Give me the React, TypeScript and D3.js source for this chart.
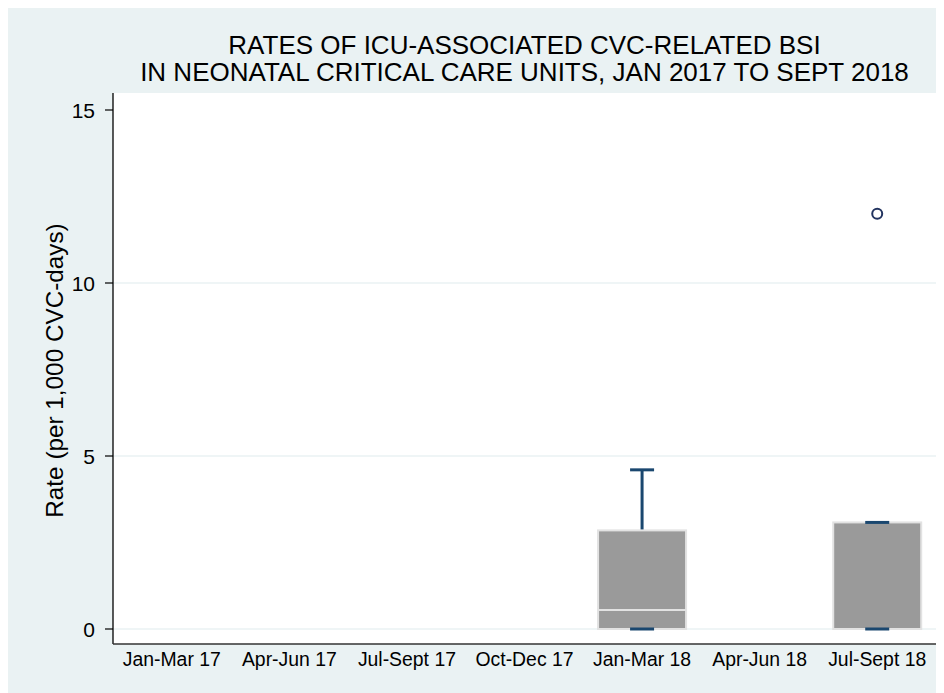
import React from "react";
import * as d3 from "d3";

const categories = ["Jan-Mar 17", "Apr-Jun 17", "Jul-Sept 17", "Oct-Dec 17", "Jan-Mar 18", "Apr-Jun 18", "Jul-Sept 18"];
// box stats per category (null = no data)
const lowerWhisker: (number | null)[] = [null, null, null, null, 0, null, 0];
const q1Values: (number | null)[] = [null, null, null, null, 0, null, 0];
const medianValues: (number | null)[] = [null, null, null, null, 0.55, null, 0];
const q3Values: (number | null)[] = [null, null, null, null, 2.85, null, 3.08];
const upperWhisker: (number | null)[] = [null, null, null, null, 4.6, null, 3.08];
const outlierValues: number[][] = [[], [], [], [], [], [], [12.0]];
const yTicks = [0, 5, 10, 15];
const titleLines = ["RATES OF ICU-ASSOCIATED CVC-RELATED BSI", "IN NEONATAL CRITICAL CARE UNITS, JAN 2017 TO SEPT 2018"];
const yTitle = "Rate (per 1,000 CVC-days)";

const W = 936;
const H = 685;
const plotL = 105;
const plotR = 928;
const plotT = 85;
const plotB = 636;
const FONT = "'Liberation Sans', Arial, Helvetica, sans-serif";
const NAVY = "#1a476f";

export default function App() {
  const x = d3.scalePoint<string>().domain(categories).range([plotL, plotR]).padding(0.5);
  const y = d3.scaleLinear().domain([0, 15]).range([621, 102]);
  const boxW = 88;
  const capW = 24;

  return (
    <svg width={W} height={H} style={{ display: "block" }} fontFamily={FONT}>
      <rect x={0} y={0} width={W} height={H} fill="#eaf2f3" />
      <rect x={plotL} y={plotT} width={plotR - plotL} height={plotB - plotT} fill="#ffffff" />
      {/* gridlines */}
      {yTicks.filter((t) => t < 15).map((t) => (
        <line key={"g" + t} x1={plotL} x2={plotR} y1={y(t)} y2={y(t)} stroke="#eaf2f3" strokeWidth={1.6} />
      ))}
      {/* boxes */}
      {categories.map((c, i) => {
        const q1 = q1Values[i];
        const q3 = q3Values[i];
        const med = medianValues[i];
        const lo = lowerWhisker[i];
        const hi = upperWhisker[i];
        if (q1 === null || q3 === null || med === null || lo === null || hi === null) return null;
        const cx = x(c)!;
        return (
          <g key={c}>
            {hi > q3 && <line x1={cx} x2={cx} y1={y(q3)} y2={y(hi)} stroke={NAVY} strokeWidth={3} />}
            {lo < q1 && <line x1={cx} x2={cx} y1={y(q1)} y2={y(lo)} stroke={NAVY} strokeWidth={3} />}
            <rect x={cx - boxW / 2} y={y(q3)} width={boxW} height={y(q1) - y(q3)} fill="#9a9a9a" stroke="#e2e2e2" strokeWidth={2} />
            {med > q1 && <line x1={cx - boxW / 2} x2={cx + boxW / 2} y1={y(med)} y2={y(med)} stroke="#e2e2e2" strokeWidth={2} />}
            <line x1={cx - capW / 2} x2={cx + capW / 2} y1={y(hi)} y2={y(hi)} stroke={NAVY} strokeWidth={3} />
            <line x1={cx - capW / 2} x2={cx + capW / 2} y1={y(lo)} y2={y(lo)} stroke={NAVY} strokeWidth={3} />
            {outlierValues[i].map((v, k) => (
              <circle key={k} cx={cx} cy={y(v)} r={5} fill="none" stroke="#22335f" strokeWidth={2} />
            ))}
          </g>
        );
      })}
      {/* axes */}
      <line x1={plotL} x2={plotL} y1={plotT} y2={plotB} stroke="#000" strokeWidth={1.3} />
      <line x1={plotL} x2={plotR} y1={plotB} y2={plotB} stroke="#333" strokeWidth={1.6} />
      {yTicks.map((t) => (
        <g key={"t" + t}>
          <line x1={plotL - 8} x2={plotL} y1={y(t)} y2={y(t)} stroke="#000" strokeWidth={1.2} />
          <text x={plotL - 18} y={y(t)} dy="0.36em" textAnchor="end" fontSize={21} fill="#000">{t}</text>
        </g>
      ))}
      {categories.map((c) => (
        <text key={"x" + c} x={x(c)!} y={658} textAnchor="middle" fontSize={19.4} fill="#000">{c}</text>
      ))}
      {/* titles */}
      {titleLines.map((l, i) => (
        <text key={"ti" + i} x={(plotL + plotR) / 2} y={46 + i * 27} textAnchor="middle" fontSize={26} fill="#000">{l}</text>
      ))}
      <text transform={`translate(55, ${(plotT + plotB) / 2 + 2}) rotate(-90)`} textAnchor="middle" fontSize={24.3} fill="#000">{yTitle}</text>
    </svg>
  );
}
